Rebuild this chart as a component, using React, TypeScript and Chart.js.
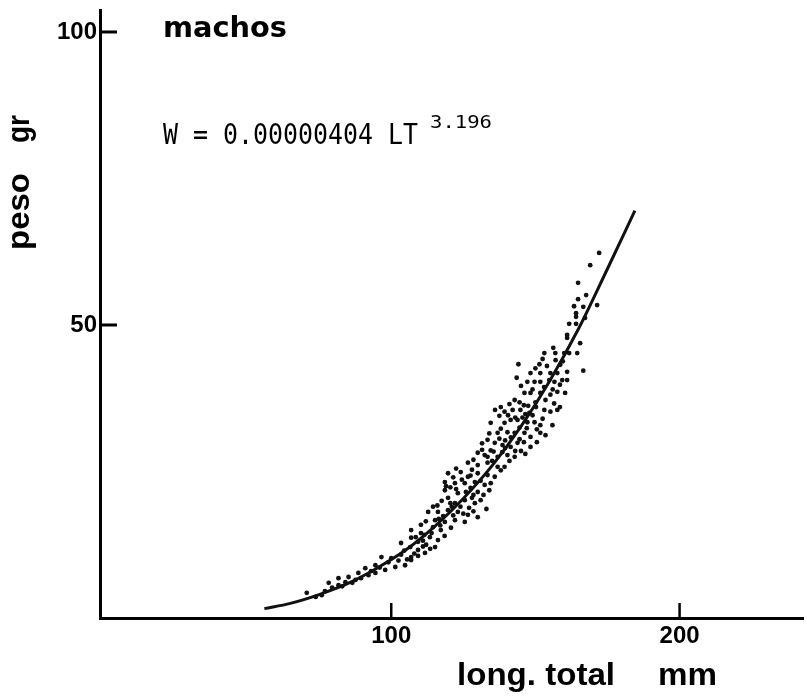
import React, { useEffect, useRef } from "react";
import { Chart, registerables } from "chart.js";

Chart.register(...registerables);

// ---- axis settings (values) ----
const lengthTicks = [100, 200];
const weightTicks = [50, 100];
const lengthMin = -1;
const lengthMax = 242.8;
const weightMin = 0;
const weightMax = 103.75;

// ---- texts ----
const panelTitle = "machos";
const formulaText = "W = 0.00000404 LT";
const exponentText = "3.196";
const xTitleMain = "long. total";
const xTitleUnit = "mm";
const yTitleMain = "peso";
const yTitleUnit = "gr";

// ---- observed individuals: total length (mm) and weight (g) ----
const sampleLength = [
  172.1, 169.0, 164.8, 167.6, 164.8, 163.4, 166.6, 171.4, 164.1, 164.1,
  167.2, 161.7, 164.1, 161.0, 161.0, 156.2, 165.5, 153.1, 156.9, 160.0,
  161.7, 164.5, 144.1, 151.4, 158.6, 166.6, 148.3, 151.7, 155.2, 157.6,
  161.0, 147.2, 149.7, 151.7, 156.6, 159.3, 146.2, 148.3, 151.7, 157.6,
  160.3, 154.8, 161.0, 142.8, 153.5, 155.2, 144.5, 139.3, 142.1, 144.8,
  147.9, 153.1, 155.2, 157.6, 150.2, 134.5, 139.3, 141.4, 143.8, 147.2,
  149.7, 151.7, 155.9, 136.9, 140.3, 142.8, 146.2, 148.3, 151.7, 133.4,
  135.9, 138.6, 141.4, 143.8, 148.3, 130.0, 133.4, 136.9, 140.3, 142.8,
  126.6, 130.0, 133.4, 136.9, 139.3, 119.7, 124.1, 126.6, 130.0, 133.4,
  135.9, 118.6, 122.1, 125.5, 129.0, 132.4, 118.6, 123.1, 125.9, 130.0,
  119.7, 122.1, 125.5, 129.0, 131.0, 112.8, 116.2, 119.7, 123.1, 126.6,
  130.0, 115.2, 118.6, 122.1, 125.5, 110.3, 114.5, 117.2, 120.7, 106.9,
  110.3, 113.4, 116.2, 106.9, 109.3, 112.1, 115.2, 103.4, 106.6, 109.3,
  111.7, 96.6, 100.0, 103.4, 106.9, 109.3, 104.8, 106.9, 91.0, 94.5,
  97.9, 101.4, 88.6, 92.1, 94.5, 81.7, 85.2, 87.6, 78.3, 81.7,
  84.1, 70.7, 73.8, 75.9, 141.0, 146.0, 150.0, 137.5, 145.5, 152.5,
  138.0, 144.5, 150.5, 153.5, 131.5, 139.5, 146.0, 150.5, 134.5, 138.5,
  145.0, 128.5, 135.0, 141.0, 122.5, 128.0, 138.0, 120.5, 127.5, 134.0,
  116.0, 121.0, 127.0, 133.0, 111.5, 118.5, 132.4,
  152.5, 154.0, 157.0, 159.5, 150.0, 153.0, 156.0, 158.5, 149.0, 145.0,
  143.5, 147.5, 156.5, 158.5, 136.0, 138.0, 140.5, 143.0, 146.5, 149.0,
  134.0, 137.5, 141.5, 144.5, 147.0, 131.5, 135.5, 139.5, 143.0, 146.5,
  121.5, 124.5, 127.5, 131.0, 134.5, 119.0, 122.5, 128.5, 132.0, 117.5,
  120.5, 124.0, 128.0, 114.5, 118.0, 121.5, 125.0, 128.5, 108.5, 111.0,
  114.0, 117.0, 104.5, 108.0, 111.0, 113.5, 99.0, 102.5, 105.5, 112.0,
  116.5, 77.0, 79.5, 83.0, 86.5, 89.5, 93.0, 96.0,
];
const sampleWeight = [
  62.3, 60.2, 57.2, 55.1, 54.4, 53.2, 53.1, 53.4, 52.0, 51.4,
  51.2, 50.2, 50.2, 48.3, 47.8, 46.1, 46.9, 45.2, 45.2, 45.2,
  45.2, 45.2, 43.3, 43.3, 43.2, 42.2, 41.8, 41.8, 41.8, 41.8,
  42.0, 40.3, 40.3, 40.3, 40.3, 40.6, 38.4, 38.4, 38.4, 38.6,
  38.4, 40.6, 40.6, 37.2, 37.2, 38.1, 36.8, 35.2, 35.5, 35.5,
  35.0, 35.5, 35.2, 35.5, 36.0, 33.3, 33.3, 33.8, 33.8, 33.4,
  33.4, 32.9, 32.9, 31.6, 31.7, 31.6, 31.6, 30.9, 31.6, 30.4,
  29.9, 29.5, 29.2, 29.9, 29.2, 28.2, 27.5, 27.5, 27.8, 27.5,
  26.5, 26.1, 26.5, 25.8, 25.8, 24.7, 24.9, 24.1, 24.7, 24.4,
  24.1, 23.2, 23.0, 23.0, 23.2, 22.7, 21.8, 21.3, 21.5, 21.5,
  20.5, 19.6, 20.1, 19.6, 20.1, 18.1, 18.1, 18.4, 18.1, 17.6,
  17.2, 16.7, 16.4, 16.7, 16.4, 15.9, 15.5, 15.0, 15.4, 15.0,
  14.5, 13.8, 13.3, 13.7, 13.0, 12.5, 12.1, 12.8, 12.1, 11.6,
  11.1, 10.4, 10.2, 10.8, 10.4, 10.6, 9.0, 9.9, 8.5, 9.0,
  8.2, 8.7, 7.7, 7.3, 7.7, 6.8, 7.0, 6.5, 6.0, 5.6,
  6.1, 4.3, 3.6, 3.9, 36.5, 36.3, 36.8, 34.5, 34.2, 34.0,
  32.3, 32.5, 32.2, 31.2, 29.8, 30.3, 30.0, 30.0, 28.6, 28.3,
  28.5, 27.0, 26.8, 26.8, 25.5, 25.3, 25.2, 22.3, 22.2, 21.8,
  19.2, 19.0, 18.8, 18.6, 14.2, 14.0, 27.8,
  44.2, 43.0, 44.0, 43.8, 42.6, 39.4, 39.0, 39.8, 39.0, 39.6,
  41.0, 36.2, 36.6, 36.0, 35.5, 36.0, 34.6, 34.2, 34.8, 34.6,
  31.5, 30.6, 30.8, 30.5, 32.4, 28.7, 28.4, 29.0, 28.5, 28.0,
  24.0, 23.6, 24.3, 23.4, 23.0, 22.5, 22.0, 21.0, 21.0, 20.0,
  19.6, 19.0, 20.5, 19.0, 17.4, 17.5, 17.8, 18.2, 13.8, 13.2,
  14.5, 15.8, 11.5, 11.0, 12.2, 11.8, 9.5, 9.8, 10.0, 16.5,
  16.9, 4.6, 5.2, 5.4, 6.0, 6.8, 8.0, 8.6,
];

// ---- fitted curve ----
const curveLength = [56, 65, 75, 85, 95, 105, 115, 125, 135, 145, 155, 165, 175, 184.5];
const curveWeight = [1.6, 2.5, 4.0, 5.9, 8.5, 11.6, 15.6, 20.4, 26.0, 32.7, 40.5, 49.4, 59.6, 69.5];

function fitText(
  ctx: CanvasRenderingContext2D,
  text: string,
  x: number,
  baseline: number,
  font: string,
  width: number,
  scaleY = 1,
  rotate = 0
) {
  ctx.save();
  ctx.font = font;
  ctx.textAlign = "left";
  ctx.textBaseline = "alphabetic";
  ctx.fillStyle = "#000";
  const w = ctx.measureText(text).width;
  ctx.translate(x, baseline);
  if (rotate) ctx.rotate(rotate);
  ctx.scale(width / w, scaleY);
  ctx.fillText(text, 0, 0);
  ctx.restore();
}

const annotatePlugin = {
  id: "annotate",
  afterDraw(chart: any) {
    const ctx: CanvasRenderingContext2D = chart.ctx;
    const { left, bottom } = chart.chartArea;
    const xs = chart.scales.x;
    const ys = chart.scales.y;
    ctx.save();
    ctx.strokeStyle = "#000";
    ctx.lineWidth = 3;
    weightTicks.forEach((v) => {
      const y = ys.getPixelForValue(v);
      ctx.beginPath();
      ctx.moveTo(left, y);
      ctx.lineTo(left + 17, y);
      ctx.stroke();
    });
    ctx.lineWidth = 2.5;
    lengthTicks.forEach((v) => {
      const x = xs.getPixelForValue(v);
      ctx.beginPath();
      ctx.moveTo(x, bottom);
      ctx.lineTo(x, bottom - 15);
      ctx.stroke();
    });
    ctx.restore();

    fitText(ctx, panelTitle, 163, 37, "bold 28px 'DejaVu Sans'", 124);
    fitText(ctx, formulaText, 163, 144, "25px 'DejaVu Sans Mono'", 255, 1.15);
    fitText(ctx, exponentText, 430, 128, "18px 'DejaVu Sans Mono'", 62, 1.0);
    fitText(ctx, xTitleMain, 457, 685, "bold 32px 'Liberation Sans'", 158);
    fitText(ctx, xTitleUnit, 658, 685, "bold 32px 'Liberation Sans'", 59);
    fitText(ctx, yTitleMain, 29, 250, "bold 32px 'Liberation Sans'", 77, 1, -Math.PI / 2);
    fitText(ctx, yTitleUnit, 29, 143, "bold 32px 'Liberation Sans'", 28, 1, -Math.PI / 2);
  },
};

export default function App() {
  const ref = useRef<HTMLCanvasElement>(null);
  useEffect(() => {
    const canvas = ref.current;
    if (!canvas) return;
    const tickFont = { family: "'Liberation Sans', Arial, sans-serif", size: 24, weight: "bold" as const };
    const chart = new Chart(canvas, {
      type: "scatter",
      data: {
        datasets: [
          {
            label: "individuos",
            data: sampleLength.map((l, i) => ({ x: l, y: sampleWeight[i] })),
            pointRadius: 2.4,
            pointBackgroundColor: "#111",
            pointBorderWidth: 0,
            showLine: false,
          },
          {
            label: "W = 0.00000404 LT^3.196",
            data: curveLength.map((l, i) => ({ x: l, y: curveWeight[i] })),
            showLine: true,
            borderColor: "#111",
            borderWidth: 3,
            pointRadius: 0,
            cubicInterpolationMode: "monotone",
            fill: false,
          } as any,
        ],
      },
      options: {
        responsive: false,
        animation: false,
        events: [],
        layout: { padding: { top: 10, right: 0, left: 0, bottom: 0 } },
        plugins: {
          legend: { display: false },
          tooltip: { enabled: false },
          title: { display: false },
        },
        scales: {
          x: {
            type: "linear",
            position: "bottom",
            min: lengthMin,
            max: lengthMax,
            afterBuildTicks: (s: any) => {
              s.ticks = lengthTicks.map((v) => ({ value: v }));
            },
            afterFit: (s: any) => {
              s.height = 82;
              s.paddingLeft = 0;
              s.paddingRight = 0;
            },
            grid: { display: false, drawTicks: false },
            border: { display: true, width: 3, color: "#000" },
            ticks: { font: tickFont, color: "#000", padding: 4, maxRotation: 0, autoSkip: false },
          },
          y: {
            type: "linear",
            position: "left",
            min: weightMin,
            max: weightMax,
            afterBuildTicks: (s: any) => {
              s.ticks = weightTicks.map((v) => ({ value: v }));
            },
            afterFit: (s: any) => {
              s.width = 100;
              s.paddingTop = 0;
              s.paddingBottom = 0;
            },
            grid: { display: false, drawTicks: false },
            border: { display: true, width: 3, color: "#000" },
            ticks: { font: tickFont, color: "#000", padding: 3, autoSkip: false },
          },
        },
      },
      plugins: [annotatePlugin],
    });
    return () => chart.destroy();
  }, []);

  return (
    <div style={{ position: "absolute", left: 0, top: 0, width: 807, height: 700, background: "#fff" }}>
      <canvas ref={ref} width={807} height={700} style={{ display: "block" }} />
    </div>
  );
}
